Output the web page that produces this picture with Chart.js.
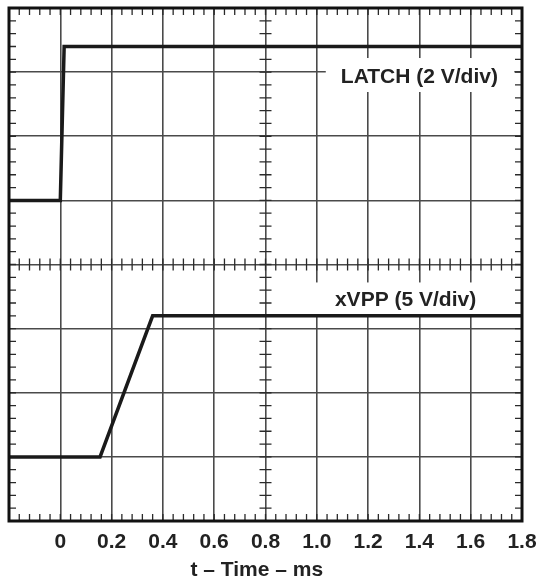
<!DOCTYPE html>
<html>
<head>
<meta charset="utf-8">
<title>LATCH / xVPP timing</title>
<script src="https://cdn.jsdelivr.net/npm/chart.js@4.4.0/dist/chart.umd.min.js"></script>
<style>
	body { margin: 0; background: #fff; }
	canvas { display: block; }
</style>
</head>
<body>
<canvas id="myChart" width="536" height="585"></canvas>
<script>
// time in ms, level in divisions (0 = bottom of screen, 8 = top)
var latchTime = [-0.2, 0, 0.015, 1.8];
var latchLevel = [5.0, 5.0, 7.4, 7.4];
var xvppTime = [-0.2, 0.155, 0.36, 1.8];
var xvppLevel = [1.0, 1.0, 3.2, 3.2];

var xTicks = [-0.2, 0, 0.2, 0.4, 0.6, 0.8, 1.0, 1.2, 1.4, 1.6, 1.8];
// trailing spaces nudge the title a bit left, as in the original
var xTitle = "t \u2013 Time \u2013 ms\u00a0\u00a0\u00a0";

// label, text center (t, div), white box (t1, t2, div1, div2)
var labels = [
	{ text: "LATCH (2 V/div)", x: 1.40, y: 6.94, box: [1.035, 1.77, 6.69, 7.22] },
	{ text: "xVPP (5 V/div)", x: 1.346, y: 3.46, box: [0.985, 1.76, 3.21, 3.72] },
];

var FONT = "'Liberation Sans', Arial, Helvetica, sans-serif";

function toPoints(xs, ys) {
	var pts = [];
	for (var i = 0; i < xs.length; i++) {
		pts.push({ x: xs[i], y: ys[i] });
	}
	return pts;
}

// minor ticks along the edges and the two center lines, like a scope screen
var scopeGrid = {
	id: "scopeGrid",
	beforeDatasetsDraw: function (chart) {
		var ctx = chart.ctx;
		var xs = chart.scales.x;
		var ys = chart.scales.y;
		var a = chart.chartArea;
		var cy = ys.getPixelForValue(4);
		var cx = xs.getPixelForValue(0.8);
		ctx.save();
		ctx.strokeStyle = "#2a2a2a";
		ctx.lineWidth = 1.3;
		ctx.beginPath();
		for (var i = 0; i <= 50; i++) {
			var px = xs.getPixelForValue(-0.2 + i * 0.04);
			ctx.moveTo(px, a.top);
			ctx.lineTo(px, a.top + 7);
			ctx.moveTo(px, a.bottom);
			ctx.lineTo(px, a.bottom - 7);
			ctx.moveTo(px, cy - 6);
			ctx.lineTo(px, cy + 6);
		}
		for (var j = 0; j <= 40; j++) {
			var py = ys.getPixelForValue(j * 0.2);
			ctx.moveTo(a.left, py);
			ctx.lineTo(a.left + 7, py);
			ctx.moveTo(a.right, py);
			ctx.lineTo(a.right - 7, py);
			ctx.moveTo(cx - 6, py);
			ctx.lineTo(cx + 6, py);
		}
		ctx.stroke();

		// trace labels on white boxes
		ctx.font = "bold 21px " + FONT;
		ctx.textAlign = "center";
		ctx.textBaseline = "middle";
		labels.forEach(function (l) {
			var x1 = xs.getPixelForValue(l.box[0]);
			var x2 = xs.getPixelForValue(l.box[1]);
			var y1 = ys.getPixelForValue(l.box[3]);
			var y2 = ys.getPixelForValue(l.box[2]);
			ctx.fillStyle = "#fff";
			ctx.fillRect(x1, y1, x2 - x1, y2 - y1);
			ctx.fillStyle = "#222";
			ctx.fillText(l.text, xs.getPixelForValue(l.x), ys.getPixelForValue(l.y) + 1);
		});
		ctx.restore();
	},
	afterDraw: function (chart) {
		var ctx = chart.ctx;
		var a = chart.chartArea;
		ctx.save();
		ctx.strokeStyle = "#111";
		ctx.lineWidth = 3;
		ctx.strokeRect(a.left, a.top, a.right - a.left, a.bottom - a.top);
		ctx.restore();
	},
};

var ctx = document.getElementById("myChart").getContext("2d");
var myChart = new Chart(ctx, {
	type: "line",
	data: {
		datasets: [
			{
				label: "LATCH",
				data: toPoints(latchTime, latchLevel),
				borderColor: "#1a1a1a",
				borderWidth: 3.5,
				pointRadius: 0,
				tension: 0,
			},
			{
				label: "xVPP",
				data: toPoints(xvppTime, xvppLevel),
				borderColor: "#1a1a1a",
				borderWidth: 3.5,
				pointRadius: 0,
				tension: 0,
			},
		],
	},
	options: {
		responsive: false,
		animation: false,
		devicePixelRatio: 1,
		layout: {
			padding: { left: 9, right: 14, top: 8, bottom: 0 },
		},
		plugins: {
			legend: { display: false },
			tooltip: { enabled: false },
		},
		scales: {
			x: {
				type: "linear",
				min: -0.2,
				max: 1.8,
				afterBuildTicks: function (scale) {
					scale.ticks = xTicks.map(function (v) {
						return { value: v };
					});
				},
				afterFit: function (scale) {
					scale.height = 64;
					scale.paddingLeft = 0;
					scale.paddingRight = 0;
				},
				grid: {
					color: "#4a4a4a",
					lineWidth: 1.6,
					drawTicks: false,
				},
				border: { display: false },
				ticks: {
					padding: 9,
					maxRotation: 0,
					autoSkip: false,
					color: "#222",
					font: { family: FONT, size: 21, weight: "bold" },
					callback: function (v) {
						if (v < -0.1) return "";
						if (Math.abs(v) < 1e-9) return "0";
						return v.toFixed(1);
					},
				},
				title: {
					display: true,
					text: xTitle,
					color: "#222",
					padding: { top: 0, bottom: 2 },
					font: { family: FONT, size: 21, weight: "bold" },
				},
			},
			y: {
				type: "linear",
				min: 0,
				max: 8,
				ticks: { display: false, stepSize: 1 },
				afterFit: function (scale) {
					scale.width = 0;
				},
				grid: {
					color: "#4a4a4a",
					lineWidth: 1.6,
					drawTicks: false,
				},
				border: { display: false },
			},
		},
	},
	plugins: [scopeGrid],
});
</script>
</body>
</html>
